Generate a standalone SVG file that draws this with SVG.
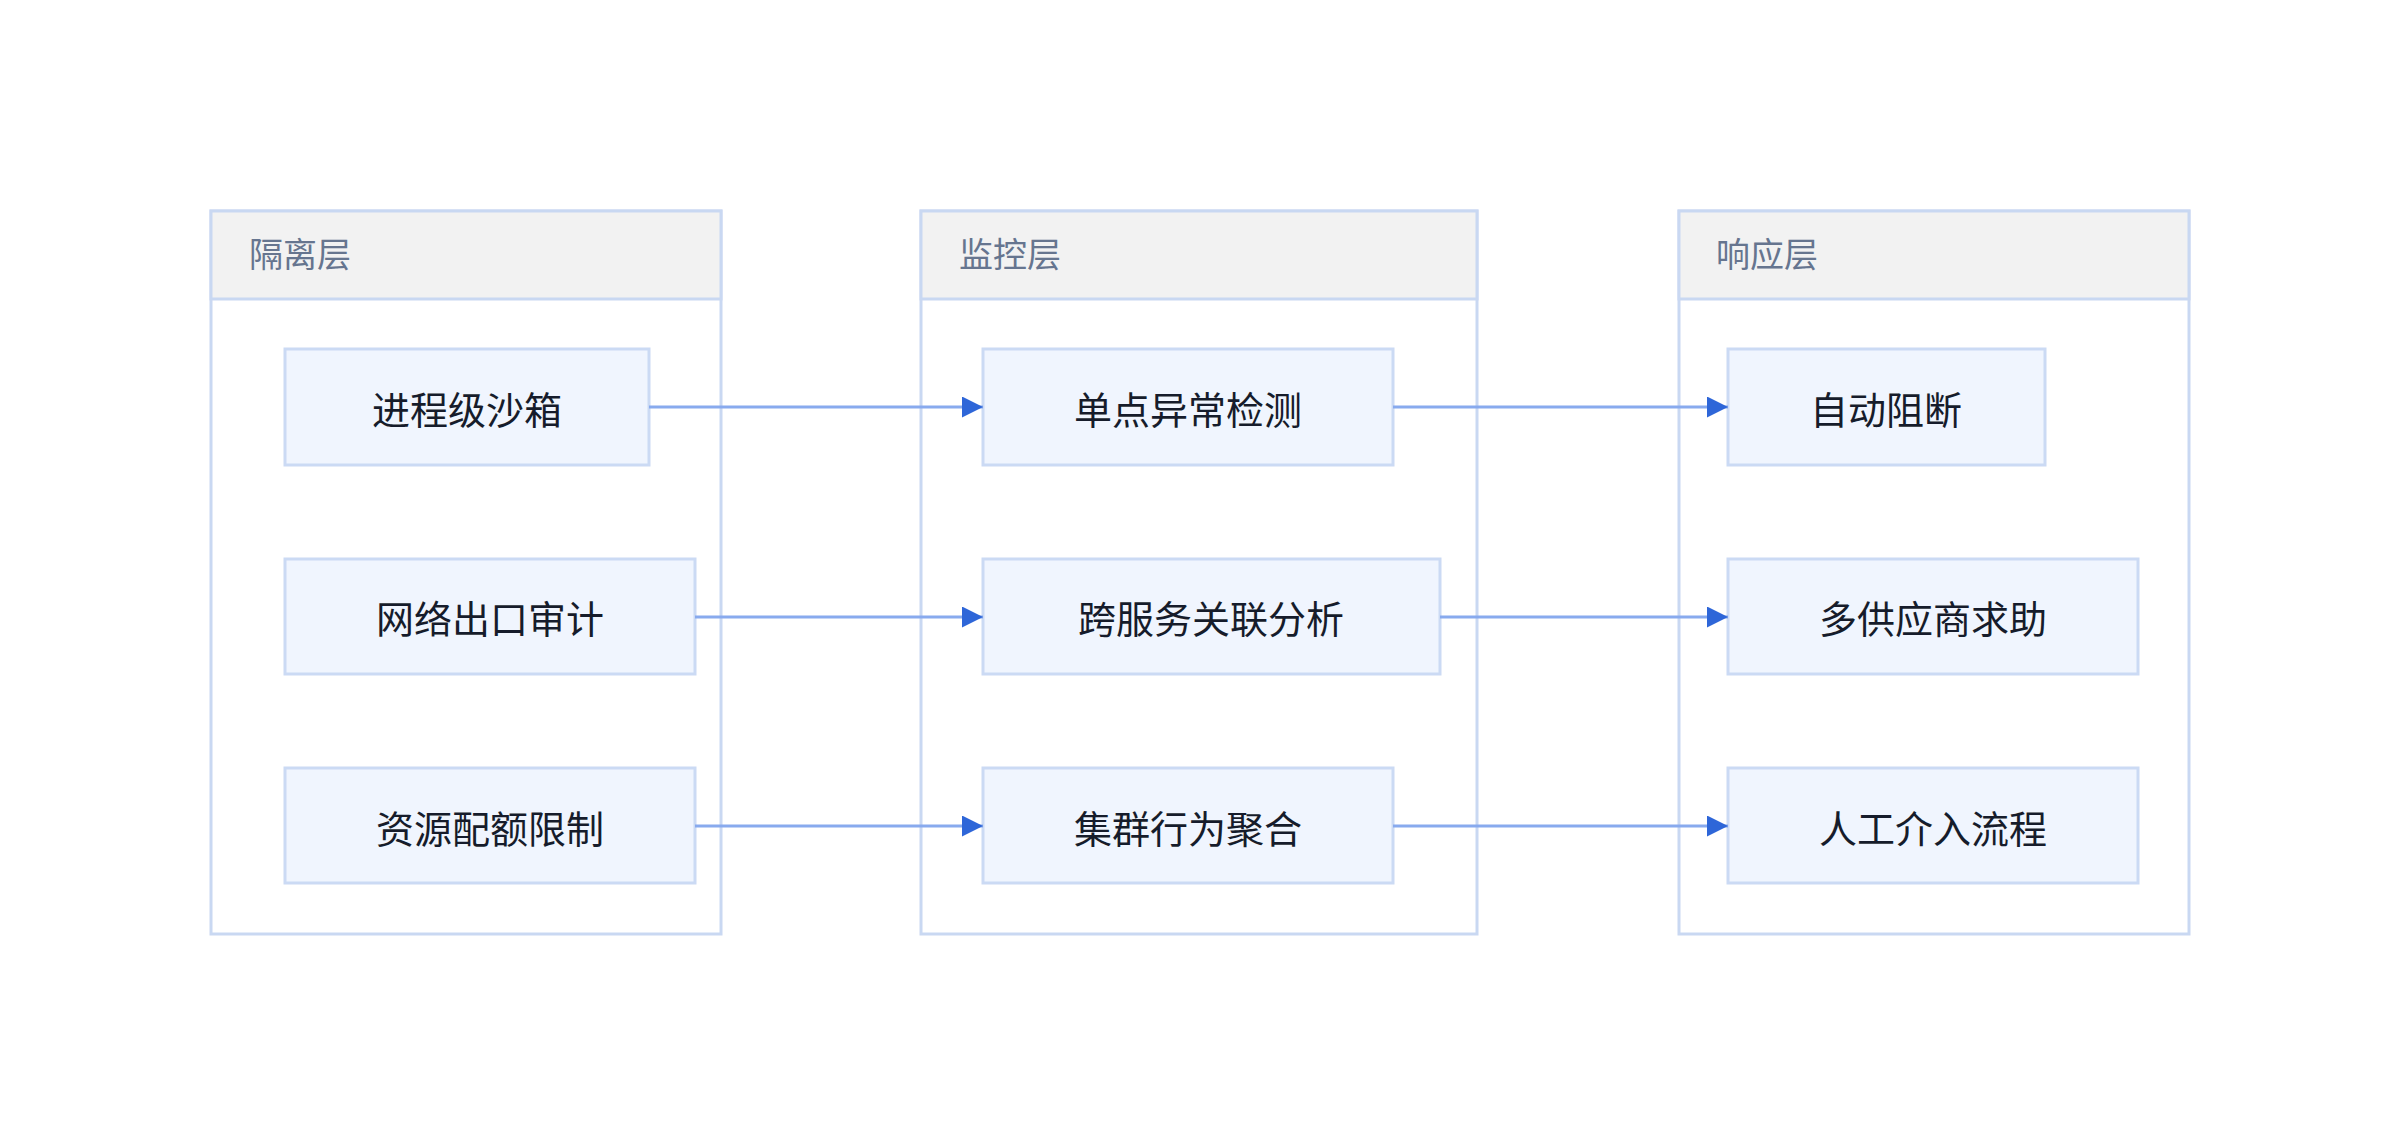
<svg xmlns="http://www.w3.org/2000/svg" width="2400" height="1146" viewBox="0 0 2400 1146">
<style>
.box{fill:#ffffff;stroke:#c9d8f2;stroke-width:3}
.hd{fill:#f2f2f2;stroke:#c9d8f2;stroke-width:3}
.ht{font-family:"Noto Sans CJK SC",sans-serif;font-size:34px;fill:#66758f}
.nd{fill:#f0f5fe;stroke:#cbdaf4;stroke-width:3}
.nt{font-family:"Noto Sans CJK SC",sans-serif;font-size:38px;fill:#161c2b;text-anchor:middle;dominant-baseline:central}
.ln{stroke:#88aaee;stroke-width:3;fill:none;marker-end:url(#ah)}
</style>
<defs><marker id="ah" viewBox="0 0 10 10" refX="10" refY="5" markerWidth="7" markerHeight="7" markerUnits="strokeWidth" orient="auto"><path d="M0,0L10,5L0,10z" fill="#2e66d8"/></marker></defs>
<rect width="2400" height="1146" fill="#fff"/>
<g id="layer1"><rect class="box" x="211" y="211" width="510" height="723"/><rect class="hd" x="211" y="211" width="510" height="88"/><text class="ht" x="249" y="267">隔离层</text></g>
<g id="layer2"><rect class="box" x="921" y="211" width="556" height="723"/><rect class="hd" x="921" y="211" width="556" height="88"/><text class="ht" x="959" y="267">监控层</text></g>
<g id="layer3"><rect class="box" x="1679" y="211" width="510" height="723"/><rect class="hd" x="1679" y="211" width="510" height="88"/><text class="ht" x="1716" y="267">响应层</text></g>
<g id="n1"><rect class="nd" x="285" y="349" width="364" height="116"/><text class="nt" x="467" y="407">进程级沙箱</text></g>
<g id="n2"><rect class="nd" x="285" y="559" width="410" height="115"/><text class="nt" x="490" y="616">网络出口审计</text></g>
<g id="n3"><rect class="nd" x="285" y="768" width="410" height="115"/><text class="nt" x="490" y="826">资源配额限制</text></g>
<g id="n4"><rect class="nd" x="983" y="349" width="410" height="116"/><text class="nt" x="1188" y="407">单点异常检测</text></g>
<g id="n5"><rect class="nd" x="983" y="559" width="457" height="115"/><text class="nt" x="1211" y="616">跨服务关联分析</text></g>
<g id="n6"><rect class="nd" x="983" y="768" width="410" height="115"/><text class="nt" x="1188" y="826">集群行为聚合</text></g>
<g id="n7"><rect class="nd" x="1728" y="349" width="317" height="116"/><text class="nt" x="1886" y="407">自动阻断</text></g>
<g id="n8"><rect class="nd" x="1728" y="559" width="410" height="115"/><text class="nt" x="1933" y="616">多供应商求助</text></g>
<g id="n9"><rect class="nd" x="1728" y="768" width="410" height="115"/><text class="nt" x="1933" y="826">人工介入流程</text></g>
<g id="edges">
<path class="ln" d="M649,407H983"/><path class="ln" d="M695,617H983"/><path class="ln" d="M695,826H983"/>
<path class="ln" d="M1393,407H1728"/><path class="ln" d="M1440,617H1728"/><path class="ln" d="M1393,826H1728"/>
</g>
</svg>
